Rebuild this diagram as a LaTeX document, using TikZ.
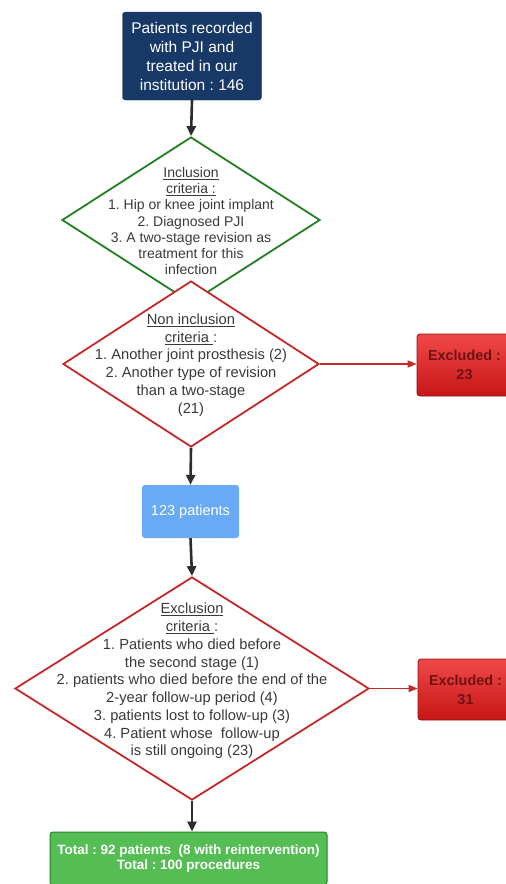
\documentclass[tikz,border=0pt]{standalone}
\usepackage{fontspec}
\setmainfont{Liberation Sans}
\usetikzlibrary{arrows.meta,shapes.geometric}
\definecolor{navy}{RGB}{24,56,104}
\definecolor{dgreen}{RGB}{34,128,34}
\definecolor{dred}{RGB}{196,40,40}
\definecolor{lblue}{RGB}{104,170,244}
\definecolor{boxgreen}{RGB}{84,190,84}
\definecolor{boxgreenline}{RGB}{40,130,40}
\definecolor{txtgray}{RGB}{58,58,58}
\definecolor{exred1}{RGB}{240,72,72}
\definecolor{exred2}{RGB}{200,22,22}
\definecolor{exline}{RGB}{140,20,20}
\definecolor{extext}{RGB}{110,18,18}
\definecolor{arrowgray}{RGB}{45,45,45}
\frenchspacing
\begin{document}
\begin{tikzpicture}[x=1pt,y=-1pt,
  conn/.style={draw=arrowgray, line width=2.6pt, -{Triangle[length=10pt,width=9pt]}},
  redconn/.style={draw=dred, line width=1.6pt, -{Triangle[length=9pt,width=7pt]}},
  crit/.style={diamond, draw=#1, fill=white, line width=1.8pt, inner sep=0pt},
  crittext/.style={align=center, text=txtgray, inner sep=0pt},
  exbox/.style={rectangle, rounded corners=3pt, draw=exline, line width=0.8pt,
     top color=exred1, bottom color=exred2, text=extext, align=center,
     font={\fontsize{14.4}{19}\selectfont\bfseries}},
  ]
\useasboundingbox (0,0) rectangle (506,884);
\fill[white] (0,0) rectangle (506,884);

% top box
\node[rectangle, rounded corners=3pt, fill=navy, draw=navy!80!black, text=white,
  minimum width=139pt, minimum height=88pt, align=center, inner sep=0pt,
  font={\fontsize{15.5}{19}\selectfont}] (top) at (192,56)
  {Patients recorded\\with PJI and\\treated in our\\institution : 146};

% inclusion diamond
\node[crit=dgreen, minimum width=258pt, minimum height=166pt] (inc) at (191,220) {};
\node[crittext, font={\fontsize{14}{16.2}\selectfont}] (inctext) at (191,221)
  {\underline{Inclusion}\\\underline{criteria :}\\1. Hip or knee joint implant\\2. Diagnosed PJI\\3. A two-stage revision as\\treatment for this\\infection};

% non inclusion diamond
\node[crit=dred, minimum width=256pt, minimum height=166pt] (noninc) at (191,364) {};
\node[crittext, font={\fontsize{14.7}{17.7}\selectfont}] (noninctext) at (191,365)
  {\underline{Non inclusion}\\\underline{criteria }:\\1. Another joint prosthesis (2)\\2. Another type of revision\\than a two-stage\\(21)};

% excluded 1
\node[exbox, minimum width=95pt, minimum height=62pt] (ex1) at (464.5,365) {Excluded :\\23};

% 123 patients
\node[rectangle, rounded corners=3pt, fill=lblue, text=white, minimum width=97pt,
  minimum height=53pt, inner sep=0pt, font={\fontsize{14.5}{17}\selectfont}] (mid) at (190.5,511.5) {123 patients};

% exclusion diamond
\node[crit=dred, minimum width=354pt, minimum height=223pt] (exc) at (192,688.5) {};
\node[crittext, font={\fontsize{14.7}{17.75}\selectfont}] (exctext) at (192,681)
  {\underline{Exclusion}\\\underline{criteria }:\\1. Patients who died before\\the second stage (1)\\2. patients who died before the end of the\\2-year follow-up period (4)\\3. patients lost to follow-up (3)\\4. Patient whose\ \ follow-up\\is still ongoing (23)};

% excluded 2
\node[exbox, minimum width=95pt, minimum height=61pt] (ex2) at (465.5,689.5) {Excluded :\\31};

% bottom box
\node[rectangle, rounded corners=3pt, fill=boxgreen, draw=boxgreenline, line width=1pt,
  text=white, minimum width=277pt, minimum height=53pt, inner sep=0pt, align=center,
  font={\fontsize{13.5}{15.5}\selectfont\bfseries}] (total) at (188.5,858.5)
  {Total : 92 patients\ \ (8 with reintervention)\\Total : 100 procedures};

% connectors
\draw[conn] (top.south) -- (inc.north);
\draw[conn] (noninc.south) -- (mid.north);
\draw[conn] (mid.south) -- (exc.north);
\draw[conn] (exc.south) -- (total.north -| exc.south);
\draw[redconn] (noninc.east) -- (noninc.east -| ex1.west);
\draw[redconn] (exc.east) -- (exc.east -| ex2.west);
\end{tikzpicture}
\end{document}
